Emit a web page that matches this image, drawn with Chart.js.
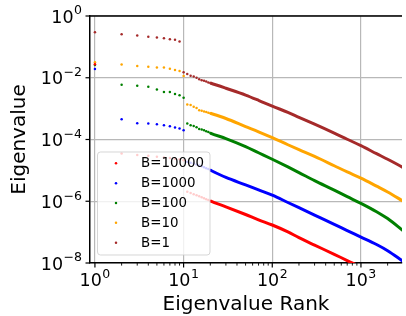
<!DOCTYPE html>
<html><head><meta charset="utf-8">
<script src="https://cdn.jsdelivr.net/npm/chart.js@4"></script>
<style>html,body{margin:0;padding:0;background:#fff;overflow:hidden}#wrap{width:406px;height:316px;position:relative}</style>
</head><body><div id="wrap"><canvas id="c" width="406" height="316"></canvas></div>
<script>
// ---- data ----
const ranks = [1,2,3,4,5,6,7,8,9,10,11,12,13,14,15,16,17,18,19,20,30,50,70,100,150,200,300,500,700,1000,1500,2000,3000];
const seriesLabels = ['B=10000','B=1000','B=100','B=10','B=1'];
const seriesColors = ['#ff0000','#0000ff','#008000','#ffa500','#a52a2a'];
const valsB10000 = [2.75e-2,3.55e-5,3.16e-5,2.95e-5,2.75e-5,2.63e-5,2.51e-5,2.40e-5,2.29e-5,2.14e-5,2.04e-6,1.86e-6,1.70e-6,1.55e-6,1.45e-6,1.35e-6,1.26e-6,1.17e-6,1.10e-6,1.02e-6,6.61e-7,3.72e-7,2.51e-7,1.70e-7,1.02e-7,6.61e-8,3.80e-8,1.91e-8,1.20e-8,7.41e-9,4.17e-9,2.82e-9,1.41e-9];
const valsB1000 = [1.91e-2,4.57e-4,3.39e-4,3.31e-4,3.09e-4,2.88e-4,2.69e-4,2.45e-4,2.29e-4,2.00e-4,1.91e-5,1.78e-5,1.66e-5,1.55e-5,1.45e-5,1.35e-5,1.26e-5,1.17e-5,1.10e-5,1.02e-5,5.89e-6,3.39e-6,2.34e-6,1.58e-6,9.12e-7,6.17e-7,3.55e-7,1.78e-7,1.12e-7,6.92e-8,3.98e-8,2.51e-8,1.12e-8];
const valsB100 = [2.57e-2,5.89e-3,5.50e-3,5.13e-3,4.17e-3,3.47e-3,3.47e-3,2.95e-3,2.69e-3,2.24e-3,3.31e-4,2.88e-4,2.75e-4,2.51e-4,2.19e-4,2.09e-4,2.00e-4,1.86e-4,1.74e-4,1.62e-4,1.07e-4,5.89e-5,3.72e-5,2.29e-5,1.29e-5,8.51e-6,4.68e-6,2.29e-6,1.41e-6,8.51e-7,4.57e-7,2.75e-7,1.10e-7];
const valsB10 = [3.16e-2,2.69e-2,2.40e-2,2.29e-2,2.14e-2,2.14e-2,1.95e-2,1.78e-2,1.66e-2,1.15e-2,1.35e-3,1.32e-3,1.15e-3,1.05e-3,8.91e-4,8.51e-4,8.13e-4,7.76e-4,7.41e-4,7.08e-4,4.79e-4,2.63e-4,1.78e-4,1.15e-4,6.76e-5,4.68e-5,2.82e-5,1.41e-5,8.91e-6,5.62e-6,3.09e-6,2.00e-6,1.00e-6];
const valsB1 = [2.95e-1,2.57e-1,2.34e-1,2.14e-1,2.00e-1,1.91e-1,1.78e-1,1.70e-1,1.48e-1,1.51e-2,1.32e-2,1.17e-2,1.10e-2,1.00e-2,8.91e-3,8.32e-3,7.94e-3,7.59e-3,7.08e-3,6.76e-3,4.57e-3,2.75e-3,1.86e-3,1.20e-3,7.59e-4,5.25e-4,3.16e-4,1.62e-4,1.02e-4,6.31e-5,3.47e-5,2.29e-5,1.23e-5];
const seriesValues = [valsB10000, valsB1000, valsB100, valsB10, valsB1];
const xTickValues = [1,10,100,1000];
const xTickExps = ['0','1','2','3'];
const yTickValues = [1,1e-2,1e-4,1e-6,1e-8];
const yTickExps = ['0','\u22122','\u22124','\u22126','\u22128'];
const xTitle = 'Eigenvalue Rank';
const yTitle = 'Eigenvalue';

const FONT = '"DejaVu Sans", sans-serif';
const CONNECT_FROM = 20;

const datasets = seriesLabels.map((lab, k) => ({
  label: lab,
  data: ranks.map((r, i) => ({x: r, y: seriesValues[k][i]})),
  showLine: true,
  cubicInterpolationMode: 'monotone',
  borderColor: seriesColors[k],
  backgroundColor: seriesColors[k],
  pointBackgroundColor: seriesColors[k],
  borderWidth: 3,
  pointBorderWidth: 0,
  pointRadius: ctx => (ctx.raw && ctx.raw.x <= CONNECT_FROM) ? 1.25 : 0,
  segment: { borderColor: ctx => ctx.p0.parsed.x < CONNECT_FROM ? 'rgba(0,0,0,0)' : undefined }
}));

function drawPow(ctx, base, exp, x, baseY, supY, align, baseSize, supSize) {
  ctx.font = baseSize + 'px ' + FONT;
  const bw = ctx.measureText(base).width;
  ctx.font = supSize + 'px ' + FONT;
  const sw = ctx.measureText(exp).width;
  const gap = 0.5;
  let left;
  if (align === 'right') left = x - bw - gap - sw;
  else left = x - (bw + gap + sw) / 2;
  ctx.textAlign = 'left';
  ctx.textBaseline = 'alphabetic';
  ctx.font = baseSize + 'px ' + FONT;
  ctx.fillText(base, left, baseY);
  ctx.font = supSize + 'px ' + FONT;
  ctx.fillText(exp, left + bw + gap, supY);
}

const legendPlugin = {
  id: 'mplLegend',
  afterDatasetsDraw(chart) {
    const ctx = chart.ctx;
    ctx.save();
    const bx = 97.5, by = 152, bw = 112.5, bh = 103;
    ctx.beginPath();
    ctx.roundRect(bx, by, bw, bh, 3);
    ctx.fillStyle = 'rgba(255,255,255,0.8)';
    ctx.fill();
    ctx.strokeStyle = 'rgba(204,204,204,0.8)';
    ctx.lineWidth = 1;
    ctx.stroke();
    ctx.font = '13.4px ' + FONT;
    ctx.textBaseline = 'middle';
    ctx.textAlign = 'left';
    seriesLabels.forEach((lab, k) => {
      const cy = 163.3 + k * 19.85;
      ctx.fillStyle = seriesColors[k];
      ctx.beginPath();
      ctx.arc(116, cy, 1.25, 0, Math.PI * 2);
      ctx.fill();
      ctx.fillStyle = '#000';
      ctx.fillText(lab, 141, cy + 0.5);
    });
    ctx.restore();
  }
};

const axesPlugin = {
  id: 'mplAxes',
  afterDraw(chart) {
    const ctx = chart.ctx;
    const ca = chart.chartArea;
    const xs = chart.scales.x, ys = chart.scales.y;
    ctx.save();
    ctx.strokeStyle = '#000';
    ctx.lineWidth = 1.5;
    ctx.beginPath();
    ctx.moveTo(ca.left - 0.75, ca.top);
    ctx.lineTo(ca.right, ca.top);
    ctx.stroke();
    ctx.lineWidth = 1.2;
    yTickValues.forEach(v => {
      const y = ys.getPixelForValue(v);
      ctx.beginPath(); ctx.moveTo(ca.left - 4.5, y); ctx.lineTo(ca.left, y); ctx.stroke();
    });
    xTickValues.forEach(v => {
      const x = xs.getPixelForValue(v);
      ctx.lineWidth = 1.2;
      ctx.beginPath(); ctx.moveTo(x, ca.bottom); ctx.lineTo(x, ca.bottom + 4.5); ctx.stroke();
      for (let m = 2; m <= 9; m++) {
        const mv = v * m;
        if (mv > xs.max) break;
        const mx = xs.getPixelForValue(mv);
        ctx.lineWidth = 0.9;
        ctx.beginPath(); ctx.moveTo(mx, ca.bottom); ctx.lineTo(mx, ca.bottom + 2.6); ctx.stroke();
      }
    });
    ctx.fillStyle = '#000';
    yTickValues.forEach((v, i) => {
      const y = ys.getPixelForValue(v);
      drawPow(ctx, '10', yTickExps[i], 82, y + 6.5, y - 1.6, 'right', 17.5, 12.5);
    });
    xTickValues.forEach((v, i) => {
      const x = xs.getPixelForValue(v);
      drawPow(ctx, '10', xTickExps[i], x, 286.3, 278.3, 'center', 17.5, 12.5);
    });
    ctx.font = '20px ' + FONT;
    ctx.textAlign = 'center';
    ctx.textBaseline = 'alphabetic';
    ctx.fillText(xTitle, (ca.left + ca.right) / 2, 309.5);
    ctx.save();
    ctx.translate(25, (ca.top + ca.bottom) / 2);
    ctx.rotate(-Math.PI / 2);
    ctx.fillText(yTitle, 0, 0);
    ctx.restore();
    ctx.restore();
  }
};

new Chart(document.getElementById('c'), {
  type: 'scatter',
  data: { datasets },
  options: {
    responsive: false,
    animation: false,
    devicePixelRatio: 1,
    events: [],
    layout: { padding: { top: 16, left: 0, right: 0, bottom: 0 } },
    plugins: { legend: { display: false }, tooltip: { enabled: false } },
    scales: {
      x: {
        type: 'logarithmic', min: 0.88, max: 2904,
        afterBuildTicks: s => { s.ticks = xTickValues.map(v => ({ value: v })); },
        afterFit: s => { s.height = 53; },
        ticks: { display: false },
        grid: { color: '#b8b8b8', lineWidth: 1.2, drawTicks: false },
        border: { display: true, color: '#000', width: 1.5 }
      },
      y: {
        type: 'logarithmic', min: 1e-8, max: 1,
        afterBuildTicks: s => { s.ticks = yTickValues.map(v => ({ value: v })); },
        afterFit: s => { s.width = 90; },
        ticks: { display: false },
        grid: { color: '#b8b8b8', lineWidth: 1.2, drawTicks: false },
        border: { display: true, color: '#000', width: 1.5 }
      }
    }
  },
  plugins: [legendPlugin, axesPlugin]
});
</script>
</body></html>
